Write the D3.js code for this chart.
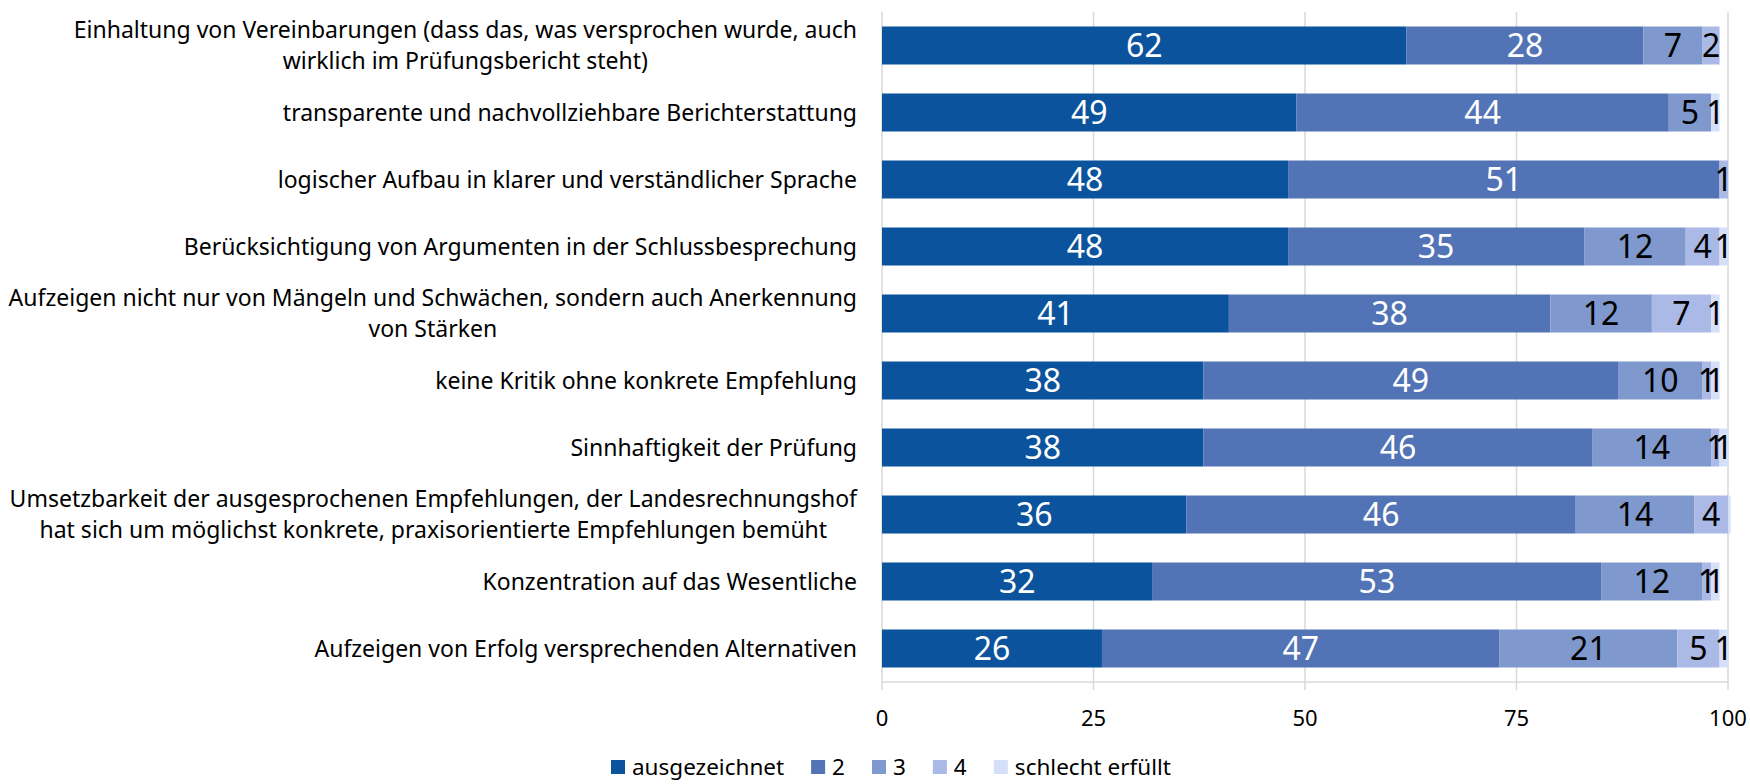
<!DOCTYPE html>
<html>
<head>
<meta charset="utf-8">
<script src="https://cdn.jsdelivr.net/npm/d3@7"></script>
<style>
  body { margin: 0; background: #fff; }
  text { font-family: "Noto Sans", sans-serif; }
</style>
</head>
<body>
<div id="chart"></div>
<script>
// Kategorien (Zeilen von oben nach unten), "\n" = Zeilenumbruch
const categories = [
  "Einhaltung von Vereinbarungen (dass das, was versprochen wurde, auch\nwirklich im Prüfungsbericht steht)",
  "transparente und nachvollziehbare Berichterstattung",
  "logischer Aufbau in klarer und verständlicher Sprache",
  "Berücksichtigung von Argumenten in der Schlussbesprechung",
  "Aufzeigen nicht nur von Mängeln und Schwächen, sondern auch Anerkennung\nvon Stärken",
  "keine Kritik ohne konkrete Empfehlung ",
  "Sinnhaftigkeit der Prüfung",
  "Umsetzbarkeit der ausgesprochenen Empfehlungen, der Landesrechnungshof\nhat sich um möglichst konkrete, praxisorientierte Empfehlungen bemüht",
  "Konzentration auf das Wesentliche",
  "Aufzeigen von Erfolg versprechenden Alternativen"
];

const seriesNames = ["ausgezeichnet", "2", "3", "4", "schlecht erfüllt"];

const ausgezeichnet = [62, 49, 48, 48, 41, 38, 38, 36, 32, 26];
const note2         = [28, 44, 51, 35, 38, 49, 46, 46, 53, 47];
const note3         = [7, 5, 0, 12, 12, 10, 14, 14, 12, 21];
const note4         = [2, 0, 1, 4, 7, 1, 1, 4, 1, 5];
const schlecht      = [0, 1, 0, 1, 1, 1, 1, 0.3, 1, 1];

const xTicks = [0, 25, 50, 75, 100];

const colors = ["#0b539c", "#5273b5", "#7f98cd", "#aab9e5", "#d6dff8"];
const labelColors = ["#fff", "#fff", "#000", "#000", "#000"];

// Tabelle für d3.stack
const allSeries = [ausgezeichnet, note2, note3, note4, schlecht];
const table = categories.map((c, i) => {
  const row = { cat: c };
  seriesNames.forEach((s, j) => row[s] = allSeries[j][i]);
  return row;
});

const width = 1750, height = 784;
const margin = { top: 12, right: 22, bottom: 102, left: 882 };

const svg = d3.select("#chart").append("svg")
  .attr("width", width)
  .attr("height", height);

const x = d3.scaleLinear()
  .domain([0, 100])
  .range([margin.left, width - margin.right]);

const y = d3.scaleBand()
  .domain(categories)
  .range([margin.top, height - margin.bottom])
  .paddingInner(0.433)
  .paddingOuter(0.2165);

// Gitterlinien
svg.append("g")
  .selectAll("line")
  .data(xTicks)
  .join("line")
  .attr("x1", d => x(d)).attr("x2", d => x(d))
  .attr("y1", margin.top).attr("y2", height - margin.bottom + 8)
  .attr("stroke", "#d9d9d9")
  .attr("stroke-width", 1.5);

svg.append("line")
  .attr("x1", x(0)).attr("x2", x(100))
  .attr("y1", height - margin.bottom).attr("y2", height - margin.bottom)
  .attr("stroke", "#d9d9d9")
  .attr("stroke-width", 1.5);

// Balken
const stack = d3.stack().keys(seriesNames)(table);

const layer = svg.append("g")
  .selectAll("g")
  .data(stack)
  .join("g")
  .attr("fill", (d, i) => colors[i]);

layer.selectAll("rect")
  .data(d => d)
  .join("rect")
  .attr("x", d => x(d[0]))
  .attr("y", d => y(d.data.cat))
  .attr("width", d => x(d[1]) - x(d[0]))
  .attr("height", y.bandwidth());

// Datenbeschriftungen
stack.forEach((s, i) => {
  svg.append("g")
    .selectAll("text")
    .data(s.filter(d => Math.round(d[1] - d[0]) > 0))
    .join("text")
    .attr("x", d => x((d[0] + d[1]) / 2))
    .attr("y", d => y(d.data.cat) + y.bandwidth() / 2)
    .attr("dy", "0.36em")
    .attr("text-anchor", "middle")
    .attr("font-size", 32)
    .attr("fill", labelColors[i])
    .text(d => Math.round(d[1] - d[0]));
});

// Kategorienbeschriftungen
const labelRight = 857;
const catG = svg.append("g");
categories.forEach(c => {
  const lines = c.split("\n");
  const cy = y(c) + y.bandwidth() / 2;
  const t = catG.append("text")
    .attr("font-size", 23)
    .attr("fill", "#000");
  lines.forEach((ln, k) => {
    t.append("tspan")
      .attr("y", cy + (k - (lines.length - 1) / 2) * 31)
      .attr("dy", "0.36em")
      .text(ln);
  });
  if (lines.length === 1) {
    t.attr("text-anchor", "end").selectAll("tspan").attr("x", labelRight);
  } else {
    const w = d3.max(t.selectAll("tspan").nodes(), n => n.getComputedTextLength());
    t.attr("text-anchor", "middle").selectAll("tspan").attr("x", labelRight - w / 2);
  }
});

// x-Achse
svg.append("g")
  .selectAll("text")
  .data(xTicks)
  .join("text")
  .attr("x", d => x(d))
  .attr("y", 718)
  .attr("dy", "0.36em")
  .attr("text-anchor", "middle")
  .attr("font-size", 22)
  .attr("fill", "#000")
  .text(d => d);

// Legende
const legend = svg.append("g").attr("transform", "translate(0,767)");
const items = legend.selectAll("g")
  .data(seriesNames)
  .join("g");
items.append("rect")
  .attr("width", 14).attr("height", 14)
  .attr("y", -7)
  .attr("fill", (d, i) => colors[i]);
items.append("text")
  .attr("x", 21)
  .attr("dy", "0.36em")
  .attr("font-size", 22.5)
  .attr("fill", "#000")
  .text(d => d);
const widths = items.nodes().map(n => n.getBBox().width);
const gap = 27;
let lx = 611;
items.attr("transform", (d, i) => {
  const pos = lx;
  lx += widths[i] + gap;
  return `translate(${pos},0)`;
});
</script>
</body>
</html>
